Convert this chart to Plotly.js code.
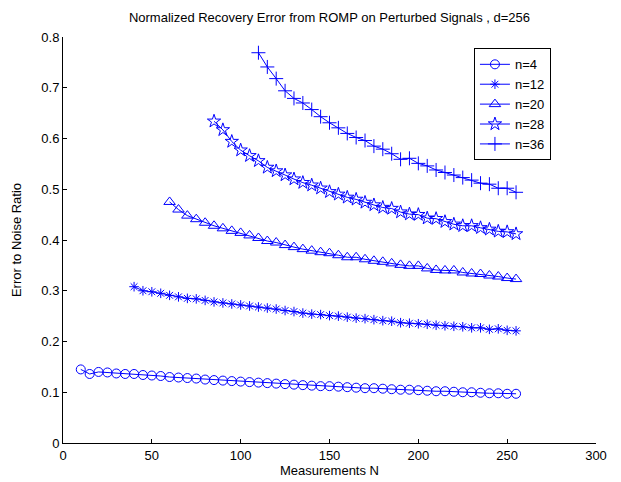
<!DOCTYPE html>
<html>
<head>
<meta charset="utf-8">
<script src="https://cdn.plot.ly/plotly-3.0.1.min.js"></script>
<style>html,body{margin:0;padding:0;background:#fff;}#chart{width:621px;height:482px;}</style>
</head>
<body>
<div id="chart"></div>
<script>
// Measurements N for each series
var N4  = [10,15,20,25,30,35,40,45,50,55,60,65,70,75,80,85,90,95,100,105,110,115,120,125,130,135,140,145,150,155,160,165,170,175,180,185,190,195,200,205,210,215,220,225,230,235,240,245,250,255];
var N12 = [40,45,50,55,60,65,70,75,80,85,90,95,100,105,110,115,120,125,130,135,140,145,150,155,160,165,170,175,180,185,190,195,200,205,210,215,220,225,230,235,240,245,250,255];
var N20 = [60,65,70,75,80,85,90,95,100,105,110,115,120,125,130,135,140,145,150,155,160,165,170,175,180,185,190,195,200,205,210,215,220,225,230,235,240,245,250,255];
var N28 = [85,90,95,100,105,110,115,120,125,130,135,140,145,150,155,160,165,170,175,180,185,190,195,200,205,210,215,220,225,230,235,240,245,250,255];
var N36 = [110,115,120,125,130,135,140,145,150,155,160,165,170,175,180,185,190,195,200,205,210,215,220,225,230,235,240,245,250,255];

// Error to noise ratio values
var E4  = [0.145,0.136,0.140,0.139,0.137,0.136,0.136,0.134,0.133,0.132,0.130,0.129,0.128,0.127,0.125,0.124,0.123,0.122,0.121,0.120,0.119,0.118,0.117,0.116,0.115,0.114,0.113,0.112,0.112,0.111,0.110,0.109,0.108,0.108,0.107,0.106,0.105,0.105,0.104,0.103,0.102,0.102,0.101,0.100,0.100,0.099,0.098,0.098,0.097,0.097];
var E12 = [0.308,0.300,0.298,0.295,0.291,0.288,0.285,0.284,0.281,0.278,0.276,0.274,0.272,0.270,0.268,0.266,0.264,0.261,0.259,0.256,0.254,0.253,0.251,0.250,0.248,0.246,0.245,0.243,0.241,0.240,0.237,0.236,0.235,0.234,0.232,0.231,0.230,0.229,0.227,0.227,0.224,0.225,0.222,0.221];
var E20 = [0.475,0.460,0.448,0.441,0.434,0.428,0.423,0.418,0.414,0.409,0.404,0.398,0.395,0.390,0.386,0.382,0.379,0.376,0.374,0.370,0.366,0.366,0.362,0.359,0.357,0.354,0.351,0.349,0.349,0.344,0.341,0.340,0.340,0.336,0.334,0.333,0.330,0.328,0.325,0.323];
var E28 = [0.634,0.617,0.594,0.577,0.566,0.556,0.543,0.536,0.528,0.520,0.513,0.508,0.502,0.495,0.490,0.484,0.480,0.474,0.469,0.464,0.462,0.455,0.451,0.450,0.443,0.442,0.436,0.431,0.428,0.428,0.424,0.421,0.417,0.416,0.412];
var E36 = [0.769,0.741,0.718,0.694,0.679,0.670,0.657,0.643,0.631,0.621,0.610,0.602,0.596,0.585,0.579,0.570,0.559,0.561,0.551,0.546,0.538,0.533,0.528,0.523,0.518,0.512,0.510,0.502,0.502,0.494];

var seriesNames = ['n=4','n=12','n=20','n=28','n=36'];
var xs = [N4, N12, N20, N28, N36];
var ys = [E4, E12, E20, E28, E36];
var symbols = ['circle-open','asterisk-open','triangle-up-open','star-open','cross-thin-open'];
var sizes = [9, 8, 10, 10, 10];

var traces = [];
for (var i = 0; i < 5; i++) {
  traces.push({
    x: xs[i], y: ys[i], name: seriesNames[i],
    type: 'scatter', mode: 'lines+markers',
    line: {color: '#0000ff', width: 1},
    marker: {symbol: symbols[i], size: sizes[i], color: '#0000ff', line: {color: '#0000ff', width: 1}}
  });
}

var font = {family: 'Liberation Sans, Arial, sans-serif', size: 13, color: '#000'};
var layout = {
  width: 621, height: 482,
  margin: {l: 62.5, r: 24.5, t: 37, b: 39},
  paper_bgcolor: '#fff', plot_bgcolor: '#fff',
  font: font,
  showlegend: true,
  title: {text: 'Normalized Recovery Error from ROMP on Perturbed Signals , d=256', font: {family: font.family, size: 13, color: '#000'}, x: 0.5305, xanchor: 'center', y: 0.963, yanchor: 'middle'},
  xaxis: {
    range: [0, 300], tickvals: [0,50,100,150,200,250,300], ticktext: ['0','50','100','150','200','250','300'],
    showgrid: false, zeroline: false, showline: true, linecolor: '#000', linewidth: 1,
    ticks: 'inside', ticklen: 4, tickcolor: '#000', tickfont: font,
    title: {text: 'Measurements N', font: font, standoff: 2}
  },
  yaxis: {
    range: [0, 0.8], tickvals: [0,0.1,0.2,0.3,0.4,0.5,0.6,0.7,0.8], ticktext: ['0','0.1','0.2','0.3','0.4','0.5','0.6','0.7','0.8'],
    showgrid: false, zeroline: false, showline: true, linecolor: '#000', linewidth: 1,
    ticks: 'inside', ticklen: 4, tickcolor: '#000', tickfont: font,
    title: {text: 'Error to Noise Ratio', font: font, standoff: 16}
  },
  legend: {
    x: 0.771, y: 0.972, xanchor: 'left', yanchor: 'top',
    bgcolor: '#fff', bordercolor: '#000', borderwidth: 1,
    font: {family: font.family, size: 13, color: '#000'},
    tracegroupgap: 0
  }
};

Plotly.newPlot('chart', traces, layout, {displayModeBar: false, staticPlot: true});
</script>
</body>
</html>
